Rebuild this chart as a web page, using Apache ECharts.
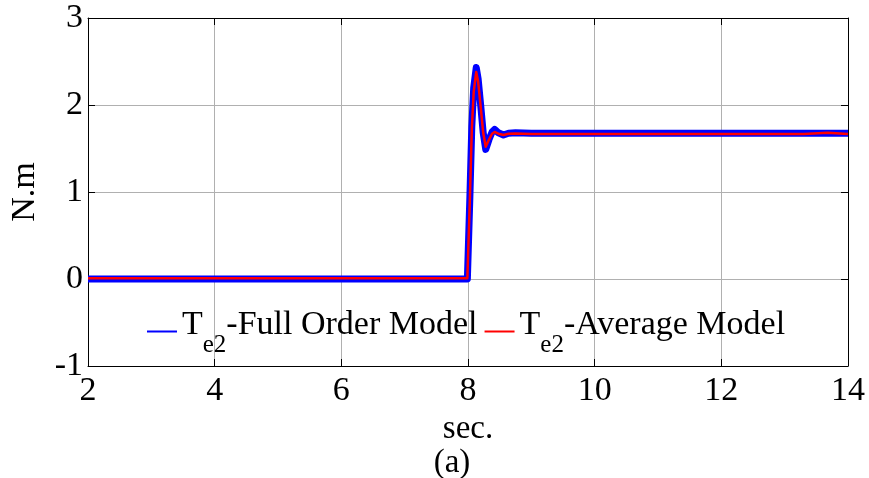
<!DOCTYPE html>
<html>
<head>
<meta charset="utf-8">
<script src="https://cdn.jsdelivr.net/npm/echarts@6/dist/echarts.min.js"></script>
<style>
  html, body { margin: 0; padding: 0; background: #fff; }
  #chart { width: 869px; height: 478px; }
</style>
</head>
<body>
<div id="chart"></div>
<script>
// Electromagnetic torque Te2 response to a load step at t = 8 s
const fullOrderT = [2, 7.99, 8.0, 8.03, 8.06, 8.09, 8.13, 8.16, 8.2, 8.24, 8.28, 8.33, 8.38, 8.42, 8.48, 8.56, 8.64, 8.75, 9.0, 14];
const fullOrderV = [0.0, 0.0, 0.0, 0.95, 1.75, 2.2, 2.43, 2.3, 2.0, 1.68, 1.49, 1.6, 1.69, 1.72, 1.68, 1.655, 1.675, 1.68, 1.675, 1.675];

const averageT = [2, 7.99, 8.0, 8.03, 8.06, 8.09, 8.13, 8.16, 8.2, 8.24, 8.28, 8.33, 8.38, 8.42, 8.48, 8.56, 8.64, 8.75, 9.0, 13.3, 13.33, 13.68, 13.7, 14];
const averageV = [0.01, 0.01, 0.01, 0.93, 1.72, 2.15, 2.38, 2.27, 1.98, 1.68, 1.52, 1.6, 1.67, 1.69, 1.67, 1.655, 1.67, 1.672, 1.668, 1.668, 1.68, 1.68, 1.668, 1.668];

const xTicks = [2, 4, 6, 8, 10, 12, 14];
const yTicks = [-1, 0, 1, 2, 3];

const seriesNames = ['T_e2-Full Order Model', 'T_e2-Average Model'];

const FONT = "'Liberation Serif', 'Times New Roman', serif";
const toPairs = (t, v) => t.map((x, i) => [x, v[i]]);

const chart = echarts.init(document.getElementById('chart'), null, { renderer: 'canvas' });

const baseAxis = {
  axisLine: { show: true, onZero: false, lineStyle: { color: '#000', width: 1 } },
  axisTick: { show: true, inside: true, length: 7, lineStyle: { color: '#000' } },
  splitLine: { show: false },
  axisLabel: { show: false }
};

chart.setOption({
  animation: false,
  backgroundColor: '#fff',
  title: {
    text: '(a)',
    left: 447,
    top: 442,
    textAlign: 'center',
    textStyle: { fontFamily: FONT, fontSize: 33, fontWeight: 'normal', color: '#000' }
  },
  grid: { left: 80, right: 21, top: 18, bottom: 112 },
  legend: {
    left: 142,
    top: 300,
    itemWidth: 30,
    itemHeight: 2,
    itemGap: 7,
    data: seriesNames.map(n => ({ name: n, icon: 'rect' })),
    formatter: name => {
      const rest = name.replace('T_e2', '');
      return '{m|T}{s|e2}{m|' + rest + '}';
    },
    textStyle: {
      fontFamily: FONT,
      color: '#000',
      rich: {
        m: { fontFamily: FONT, fontSize: 34, color: '#000', lineHeight: 36, padding: [0, 0, 13, 0] },
        s: { fontFamily: FONT, fontSize: 25, color: '#000', lineHeight: 22, padding: [28, 0, 0, 0] }
      }
    }
  },
  xAxis: [
    Object.assign({}, baseAxis, {
      type: 'value', min: 2, max: 14, interval: 2, position: 'bottom',
      name: 'sec.', nameLocation: 'middle', nameGap: 38,
      nameTextStyle: { fontFamily: FONT, fontSize: 33, color: '#000' },
      axisLabel: {
        show: true, margin: 8, fontFamily: FONT, fontSize: 34, color: '#000',
        formatter: v => xTicks.includes(v) ? String(v) : ''
      },
      splitLine: { show: true, lineStyle: { color: '#b0b0b0', width: 1 } }
    }),
    Object.assign({}, baseAxis, {
      type: 'value', min: 2, max: 14, interval: 2, position: 'top'
    })
  ],
  yAxis: [
    Object.assign({}, baseAxis, {
      type: 'value', min: -1, max: 3, interval: 1, position: 'left',
      name: 'N.m', nameLocation: 'middle', nameGap: 46, nameRotate: 90,
      nameTextStyle: { fontFamily: FONT, fontSize: 34, color: '#000' },
      axisLabel: {
        show: true, margin: 5, fontFamily: FONT, fontSize: 34, color: '#000',
        formatter: v => yTicks.includes(v) ? String(v) : ''
      },
      splitLine: { show: true, lineStyle: { color: '#b0b0b0', width: 1 } }
    }),
    Object.assign({}, baseAxis, {
      type: 'value', min: -1, max: 3, interval: 1, position: 'right'
    })
  ],
  series: [
    {
      name: seriesNames[0],
      type: 'line',
      xAxisIndex: 0, yAxisIndex: 0,
      data: toPairs(fullOrderT, fullOrderV),
      showSymbol: false,
      symbol: 'none',
      color: '#0000ff',
      lineStyle: { color: '#0000ff', width: 7, join: 'round' },
      z: 2
    },
    {
      name: seriesNames[1],
      type: 'line',
      xAxisIndex: 0, yAxisIndex: 0,
      data: toPairs(averageT, averageV),
      showSymbol: false,
      symbol: 'none',
      color: '#ff0000',
      lineStyle: { color: '#ff0000', width: 2.5, join: 'round' },
      z: 3
    }
  ]
});
</script>
</body>
</html>
